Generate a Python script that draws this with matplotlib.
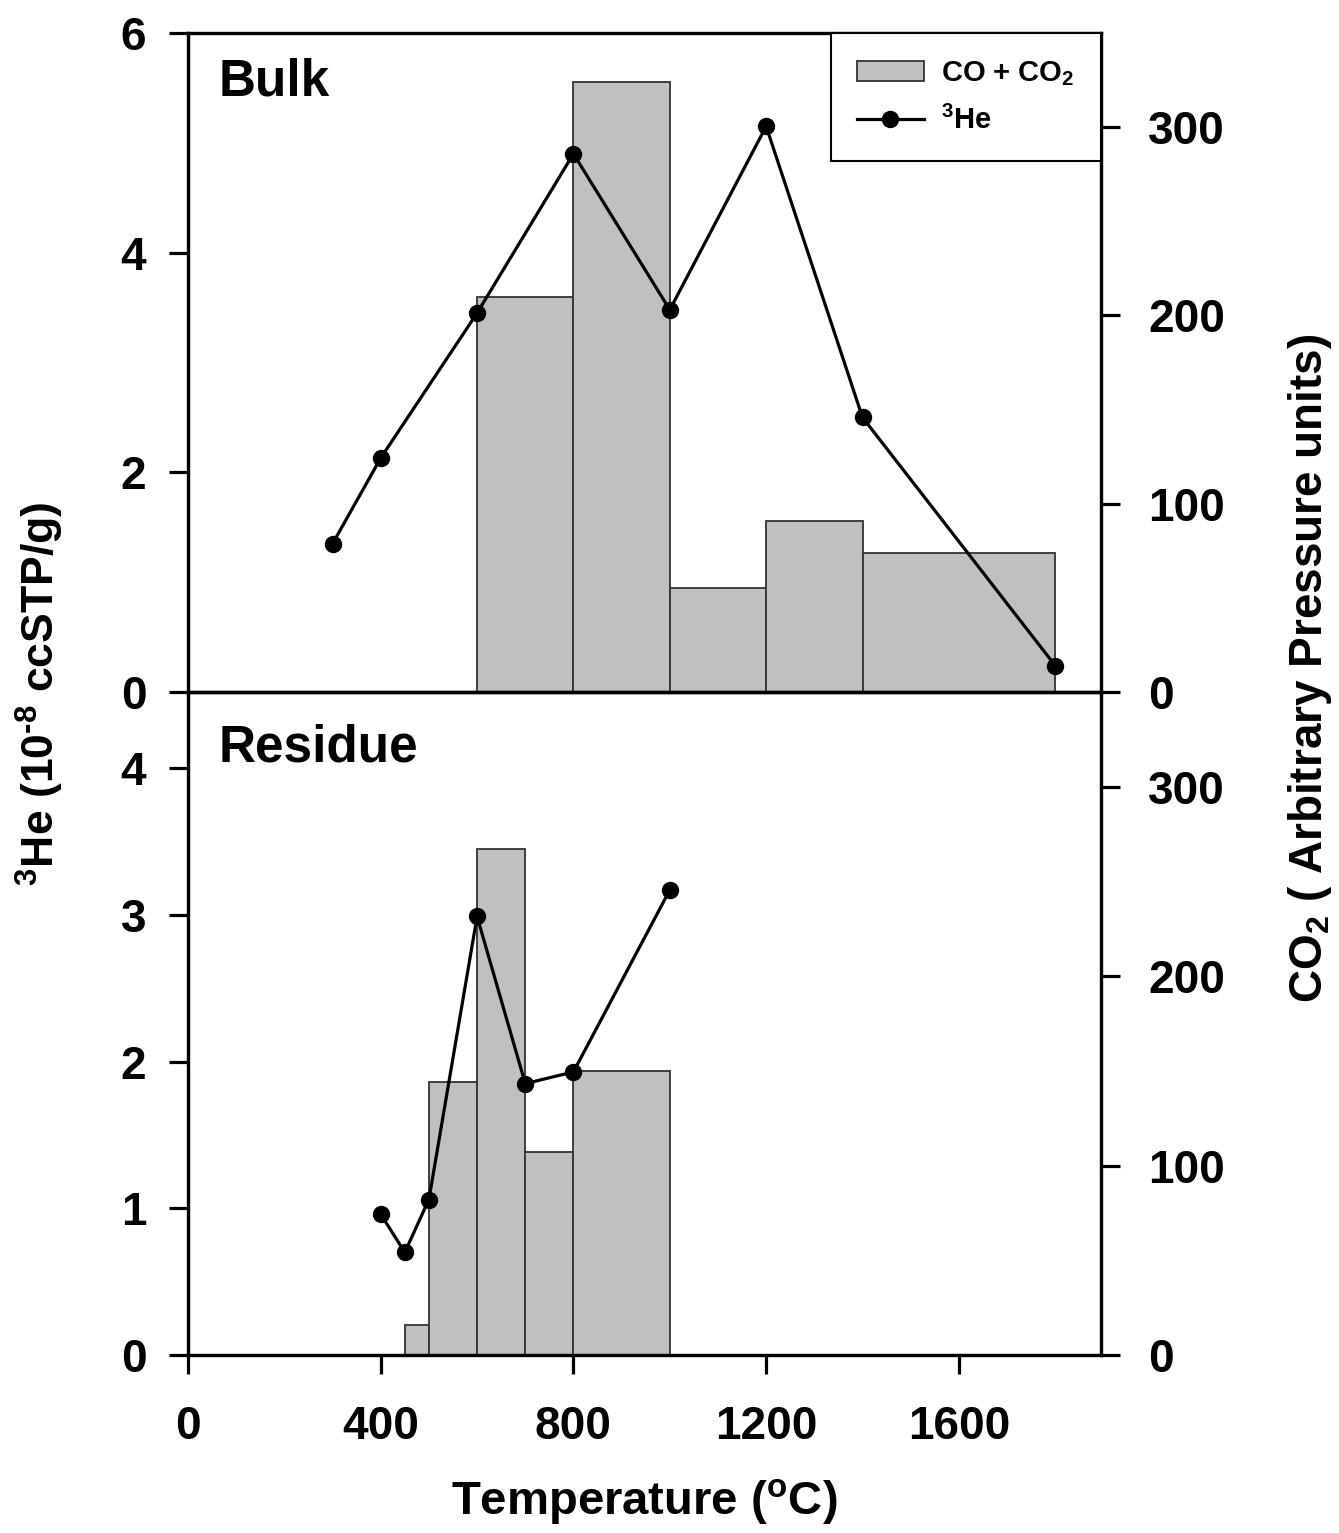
import matplotlib
matplotlib.use("Agg")
import matplotlib.pyplot as plt
from matplotlib.patches import Patch
from matplotlib.lines import Line2D

plt.rcParams['font.family'] = ['Liberation Sans', 'DejaVu Sans']
plt.rcParams['font.weight'] = 'bold'
plt.rcParams['mathtext.fontset'] = 'custom'
plt.rcParams['mathtext.rm'] = 'Liberation Sans:bold'
plt.rcParams['mathtext.it'] = 'Liberation Sans:bold'
plt.rcParams['mathtext.bf'] = 'Liberation Sans:bold'
plt.rcParams['mathtext.default'] = 'rm'

# ---- Data ----
# Bulk: CO + CO2 release per temperature step (bar edges)
bulk_bar_left = [600, 800, 1000, 1200, 1400]
bulk_bar_right = [800, 1000, 1200, 1400, 1800]
bulk_co2 = [210, 324, 55, 91, 74]
# Bulk: 3He
bulk_he_temp = [300, 400, 600, 800, 1000, 1200, 1400, 1800]
bulk_he = [1.35, 2.13, 3.45, 4.90, 3.48, 5.15, 2.50, 0.24]

# Residue
res_bar_left = [450, 500, 600, 700, 800]
res_bar_right = [500, 600, 700, 800, 1000]
res_co2 = [16, 144, 267, 107, 150]
res_he_temp = [400, 450, 500, 600, 700, 800, 1000]
res_he = [0.96, 0.70, 1.06, 2.99, 1.85, 1.93, 3.17]

x_ticks = [0, 400, 800, 1200, 1600]
top_left_ticks = [0, 2, 4, 6]
bot_left_ticks = [0, 1, 2, 3, 4]
right_ticks = [0, 100, 200, 300]

fig = plt.figure(figsize=(13.39, 15.33), dpi=100)
L, R = 188/1339, 1101/1339
y_top = 1 - 33/1533
y_mid = 1 - 692/1533
y_bot = 1 - 1355/1533

ax1 = fig.add_axes([L, y_mid, R - L, y_top - y_mid])
ax2 = fig.add_axes([L, y_bot, R - L, y_mid - y_bot])

LW = 2.3
tick_fs = 33
bar_color = '#c0c0c0'
bar_edge = '#333333'

def setup(ax, left_lim, left_ticks, bars_l, bars_r, bars_h, he_t, he_v, show_x):
    axr = ax.twinx()
    ax.set_zorder(axr.get_zorder() + 1)
    ax.patch.set_visible(False)
    widths = [r - l for l, r in zip(bars_l, bars_r)]
    axr.bar(bars_l, bars_h, width=widths, align='edge', color=bar_color,
            edgecolor=bar_edge, linewidth=1.3)
    ax.plot(he_t, he_v, color='black', lw=LW, marker='o', markersize=11.5)
    ax.set_xlim(0, 1895)
    ax.set_ylim(0, left_lim)
    axr.set_ylim(0, 350)
    ax.set_yticks(left_ticks)
    axr.set_yticks(right_ticks)
    for a in (ax, axr):
        for s in a.spines.values():
            s.set_linewidth(LW)
    ax.tick_params(axis='y', direction='out', length=14, width=LW,
                   labelsize=tick_fs, pad=16)
    axr.tick_params(axis='y', direction='out', length=14, width=LW,
                    labelsize=tick_fs, pad=20)
    ax.set_xticks(x_ticks)
    if show_x:
        ax.tick_params(axis='x', direction='out', length=14, width=LW,
                       labelsize=tick_fs, pad=22)
    else:
        ax.tick_params(axis='x', bottom=False, labelbottom=False)
    axr.tick_params(axis='x', bottom=False, labelbottom=False)
    for lab in ax.get_yticklabels() + axr.get_yticklabels() + ax.get_xticklabels():
        lab.set_fontweight('bold')
    return axr

setup(ax1, 6, top_left_ticks, bulk_bar_left, bulk_bar_right, bulk_co2,
      bulk_he_temp, bulk_he, False)
setup(ax2, 4.52, bot_left_ticks, res_bar_left, res_bar_right, res_co2,
      res_he_temp, res_he, True)

ax1.text(0.033, 0.925, 'Bulk', transform=ax1.transAxes, fontsize=37,
         fontweight='bold', va='center', ha='left')
ax2.text(0.033, 0.915, 'Residue', transform=ax2.transAxes, fontsize=37,
         fontweight='bold', va='center', ha='left')

handles = [Patch(facecolor=bar_color, edgecolor=bar_edge, linewidth=1.3),
           Line2D([0], [0], color='black', lw=LW, marker='o', markersize=11.5)]
leg = ax1.legend(handles, ['CO + CO$_2$', '$^3$He'], loc='upper right',
                 borderaxespad=0, fancybox=False, framealpha=1,
                 edgecolor='black', prop={'size': 21, 'weight': 'bold'},
                 handlelength=2.3, borderpad=0.9, labelspacing=0.6,
                 handletextpad=0.6)
leg.get_frame().set_linewidth(1.5)

ax2.set_xlabel('Temperature ($^{o}$C)', fontsize=34, fontweight='bold',
               labelpad=20)

fig.text(40/1339, 1 - 694/1533, '$^{3}$He (10$^{\\text{-8}}$ ccSTP/g)',
         rotation=90, fontsize=32, fontweight='bold', ha='center', va='center')
fig.text(1310/1339, 1 - 668/1533, 'CO$_2$ ( Arbitrary Pressure units)',
         rotation=90, fontsize=33, fontweight='bold', ha='center', va='center')

fig.savefig('out.png', dpi=100)
